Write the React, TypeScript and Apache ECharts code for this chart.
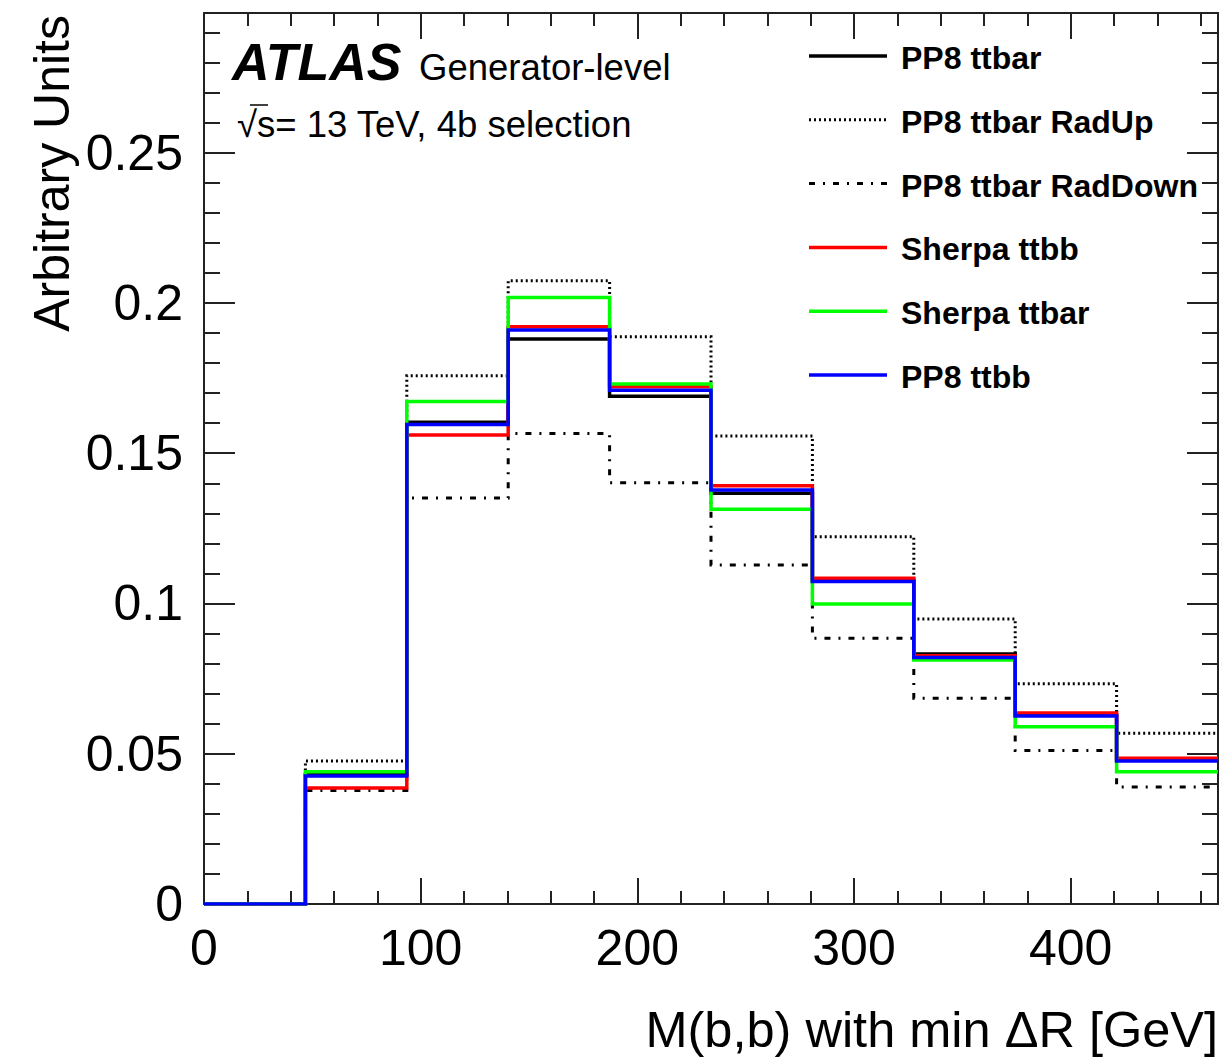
import React, { useEffect, useRef } from "react";
import * as echarts from "echarts";

// ---- data ----
const BIN_WIDTH = 46.8; // GeV
const X_MAX = 468;
const Y_MAX = 0.2965;

const seriesNames = [
  "PP8 ttbar",
  "PP8 ttbar RadUp",
  "PP8 ttbar RadDown",
  "Sherpa ttbb",
  "Sherpa ttbar",
  "PP8 ttbb",
];

const pp8Ttbar = [0, 0.043, 0.1603, 0.188, 0.169, 0.1367, 0.1076, 0.0832, 0.063, 0.0478];
const pp8RadUp = [0, 0.0476, 0.1758, 0.2074, 0.1888, 0.1557, 0.1222, 0.0948, 0.0733, 0.0568];
const pp8RadDown = [0, 0.0378, 0.1351, 0.1566, 0.1402, 0.1128, 0.0884, 0.0685, 0.0511, 0.0389];
const sherpaTtbb = [0, 0.0386, 0.1561, 0.1921, 0.1721, 0.1392, 0.1084, 0.0826, 0.0636, 0.0485];
const sherpaTtbar = [0, 0.044, 0.1672, 0.2018, 0.173, 0.1314, 0.0998, 0.0812, 0.059, 0.044];
const pp8Ttbb = [0, 0.0426, 0.1596, 0.191, 0.171, 0.1378, 0.1073, 0.082, 0.0626, 0.0476];

const seriesValues = [pp8Ttbar, pp8RadUp, pp8RadDown, sherpaTtbb, sherpaTtbar, pp8Ttbb];

const xTitle = "M(b,b) with min \u0394R [GeV]";
const yTitle = "Arbitrary Units";

// ---- styles ----
const FONT = '"Liberation Sans", Arial, Helvetica, sans-serif';
const colors = ["#000000", "#000000", "#000000", "#ff0000", "#00ff00", "#0000ff"];
const dashes: any[] = ["solid", [2, 3], [6, 8, 2, 8], "solid", "solid", "solid"];
const widths = [3.5, 3, 3, 3.5, 3.5, 3.5];
const AXIS_COLOR = "#222";

function toSteps(values: number[]) {
  const pts: number[][] = values.map((v, i) => [i * BIN_WIDTH, v]);
  pts.push([X_MAX, values[values.length - 1]]);
  return pts;
}

export default function App() {
  const ref = useRef<HTMLDivElement>(null);

  useEffect(() => {
    document.body.style.margin = "0";
    if (!ref.current) return;
    const chart = echarts.init(ref.current, undefined, { renderer: "svg" });

    const axisLineOn = { show: true, onZero: false, lineStyle: { color: AXIS_COLOR, width: 2 } };
    const axisLineOff = { show: false, onZero: false };
    const tickStyle = { color: AXIS_COLOR, width: 2 };

    const xBase = { type: "value", min: 0, max: X_MAX, splitLine: { show: false } };
    const yBase = { type: "value", min: 0, max: Y_MAX, splitLine: { show: false } };

    const xAxis = [
      {
        ...xBase,
        position: "bottom",
        interval: 100,
        axisLine: axisLineOn,
        axisTick: { show: true, inside: true, length: 26, lineStyle: tickStyle },
        axisLabel: {
          show: true,
          fontSize: 50,
          fontFamily: FONT,
          color: "#000",
          margin: 19,
          showMaxLabel: false,
        },
      },
      {
        ...xBase,
        position: "bottom",
        interval: 20,
        axisLine: axisLineOff,
        axisTick: { show: true, inside: true, length: 13, lineStyle: tickStyle },
        axisLabel: { show: false },
      },
      {
        ...xBase,
        position: "top",
        interval: 100,
        axisLine: axisLineOn,
        axisTick: { show: true, inside: true, length: 26, lineStyle: tickStyle },
        axisLabel: { show: false },
      },
      {
        ...xBase,
        position: "top",
        interval: 20,
        axisLine: axisLineOff,
        axisTick: { show: true, inside: true, length: 13, lineStyle: tickStyle },
        axisLabel: { show: false },
      },
    ];

    const yAxis = [
      {
        ...yBase,
        position: "left",
        interval: 0.05,
        axisLine: axisLineOn,
        axisTick: { show: true, inside: true, length: 31, lineStyle: tickStyle },
        axisLabel: {
          show: true,
          fontSize: 50,
          fontFamily: FONT,
          color: "#000",
          margin: 21,
          showMaxLabel: false,
        },
      },
      {
        ...yBase,
        position: "left",
        interval: 0.01,
        axisLine: axisLineOff,
        axisTick: { show: true, inside: true, length: 16, lineStyle: tickStyle },
        axisLabel: { show: false },
      },
      {
        ...yBase,
        position: "right",
        interval: 0.05,
        axisLine: axisLineOn,
        axisTick: { show: true, inside: true, length: 31, lineStyle: tickStyle },
        axisLabel: { show: false },
      },
      {
        ...yBase,
        position: "right",
        interval: 0.01,
        axisLine: axisLineOff,
        axisTick: { show: true, inside: true, length: 16, lineStyle: tickStyle },
        axisLabel: { show: false },
      },
    ];

    const series = seriesValues.map((vals, i) => ({
      name: seriesNames[i],
      type: "line",
      step: "end",
      xAxisIndex: 0,
      yAxisIndex: 0,
      symbol: "none",
      showSymbol: false,
      clip: true,
      data: toSteps(vals),
      lineStyle: { color: colors[i], width: widths[i], type: dashes[i], cap: "butt", join: "miter" },
      z: 2 + i,
    }));

    // legend drawn as graphic elements
    const legendTop = 56;
    const legendStep = 63.8;
    const legendEls: any[] = [];
    seriesNames.forEach((name, i) => {
      const y = legendTop + i * legendStep;
      legendEls.push({
        type: "line",
        shape: { x1: 809, y1: y, x2: 887, y2: y },
        style: {
          stroke: colors[i],
          lineWidth: widths[i],
          lineDash: Array.isArray(dashes[i]) ? dashes[i] : null,
          lineCap: "butt",
        },
        z: 10,
      });
      legendEls.push({
        type: "text",
        x: 901,
        y: y + 2,
        style: {
          text: name,
          font: `bold 32px ${FONT}`,
          fill: "#000",
          textAlign: "left",
          textVerticalAlign: "middle",
        },
        z: 10,
      });
    });

    const option = {
      animation: false,
      backgroundColor: "#ffffff",
      grid: { left: 204, right: 6, top: 13, bottom: 159, containLabel: false },
      xAxis,
      yAxis,
      series,
      graphic: [
        {
          type: "text",
          x: 232,
          y: 62,
          style: {
            text: "ATLAS",
            font: `italic bold 52px ${FONT}`,
            fill: "#000",
            textAlign: "left",
            textVerticalAlign: "middle",
          },
        },
        {
          type: "text",
          x: 419,
          y: 67,
          style: {
            text: "Generator-level",
            font: `36.5px ${FONT}`,
            fill: "#000",
            textAlign: "left",
            textVerticalAlign: "middle",
          },
        },
        {
          type: "text",
          x: 237,
          y: 124,
          style: {
            text: "\u221As= 13 TeV, 4b selection",
            font: `36.5px ${FONT}`,
            fill: "#000",
            textAlign: "left",
            textVerticalAlign: "middle",
          },
        },
        {
          type: "line",
          shape: { x1: 250, y1: 105, x2: 268, y2: 105 },
          style: { stroke: "#000", lineWidth: 1.5 },
        },
        {
          type: "text",
          x: 1218,
          y: 1029,
          style: {
            text: xTitle,
            font: `50.5px ${FONT}`,
            fill: "#000",
            textAlign: "right",
            textVerticalAlign: "middle",
          },
        },
        {
          type: "text",
          x: 52,
          y: 15,
          rotation: Math.PI / 2,
          style: {
            text: yTitle,
            font: `50px ${FONT}`,
            fill: "#000",
            textAlign: "right",
            textVerticalAlign: "middle",
          },
        },
        ...legendEls,
      ],
    };

    chart.setOption(option as any);
    return () => chart.dispose();
  }, []);

  return <div ref={ref} style={{ width: 1224, height: 1063, background: "#fff" }} />;
}
